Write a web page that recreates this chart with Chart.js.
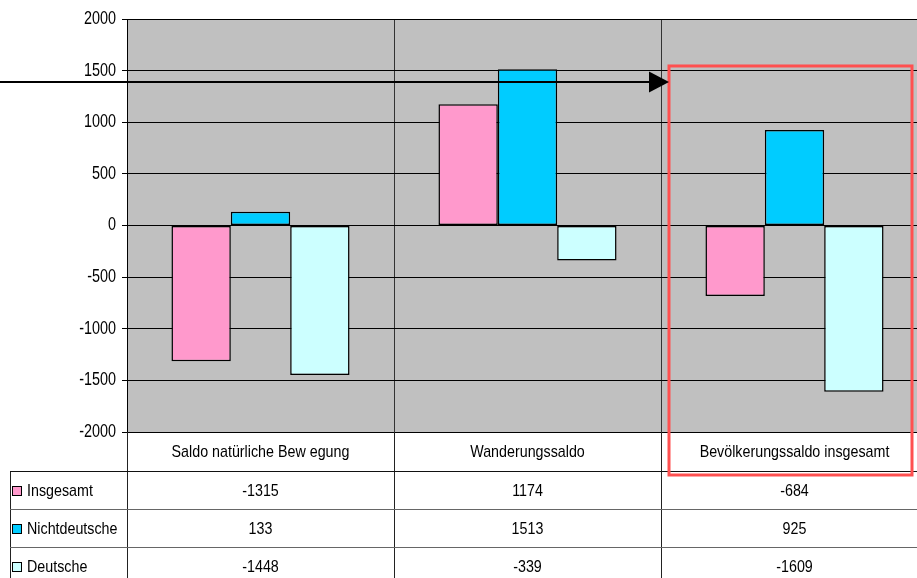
<!DOCTYPE html>
<html>
<head>
<meta charset="utf-8">
<script src="https://cdn.jsdelivr.net/npm/chart.js@4"></script>
<style>
  html, body { margin: 0; padding: 0; background: #fff; overflow: hidden; }
  #wrap { width: 917px; height: 578px; overflow: hidden; }
</style>
</head>
<body>
<div id="wrap"><canvas id="c" width="930" height="578"></canvas></div>
<script>
// Population balance by component and nationality
const categories = ['Saldo natürliche Bew egung', 'Wanderungssaldo', 'Bevölkerungssaldo insgesamt'];
const seriesNames = ['Insgesamt', 'Nichtdeutsche', 'Deutsche'];
const insgesamt = [-1315, 1174, -684];
const nichtdeutsche = [133, 1513, 925];
const deutsche = [-1448, -339, -1609];
const seriesColors = ['#ff99cc', '#00ccff', '#ccffff'];
const yMin = -2000, yMax = 2000, yStep = 500;
// value where the pointer arrow runs, and top of the highlight frame
const arrowValue = 1390;
const frameTopValue = 1545;

const FONT = '"Liberation Sans", Arial, sans-serif';
const seriesValues = [insgesamt, nichtdeutsche, deutsche];

// condensed text: normal font squeezed horizontally
function narrowText(ctx, text, x, y, align, size, squeeze) {
  ctx.save();
  ctx.font = size + 'px ' + FONT;
  ctx.textAlign = align;
  ctx.textBaseline = 'middle';
  ctx.translate(x, y);
  ctx.scale(squeeze, 1);
  ctx.fillText(text, 0, 0);
  ctx.restore();
}

const plotBg = {
  id: 'plotBg',
  beforeDraw(chart) {
    const { ctx, chartArea: a } = chart;
    ctx.save();
    ctx.fillStyle = '#c0c0c0';
    ctx.fillRect(a.left, a.top, a.right - a.left, a.bottom - a.top);
    ctx.restore();
  }
};

const dataTable = {
  id: 'dataTable',
  afterDraw(chart) {
    const { ctx, chartArea: a } = chart;
    const xs = chart.scales.x, ys = chart.scales.y;
    const n = categories.length;
    const catW = (xs.right - xs.left) / n;
    const headH = 39, rowH = 38;
    const headBottom = a.bottom + headH;
    const tableLeft = 10;
    const H = chart.height;
    ctx.save();
    // y tick labels
    ctx.fillStyle = '#000';
    ys.ticks.forEach(t => {
      narrowText(ctx, String(t.value), a.left - 11, ys.getPixelForValue(t.value), 'right', 18, 0.8);
    });
    ctx.lineWidth = 1;
    // vertical lines
    ctx.strokeStyle = '#222';
    for (let i = 0; i <= n; i++) {
      const x = Math.round(xs.left + i * catW) + 0.5;
      ctx.beginPath(); ctx.moveTo(x, a.bottom); ctx.lineTo(x, H); ctx.stroke();
    }
    ctx.beginPath(); ctx.moveTo(tableLeft + 0.5, headBottom); ctx.lineTo(tableLeft + 0.5, H); ctx.stroke();
    // horizontal lines
    ctx.strokeStyle = '#111';
    ctx.beginPath(); ctx.moveTo(tableLeft, Math.round(headBottom) + 0.5); ctx.lineTo(chart.width, Math.round(headBottom) + 0.5); ctx.stroke();
    ctx.strokeStyle = '#666';
    for (let r = 1; r < seriesNames.length; r++) {
      const y = Math.round(headBottom + r * rowH) + 0.5;
      ctx.beginPath(); ctx.moveTo(tableLeft, y); ctx.lineTo(chart.width, y); ctx.stroke();
    }
    // text
    ctx.fillStyle = '#000';
    categories.forEach((c, i) => {
      narrowText(ctx, c, xs.getPixelForValue(i), a.bottom + headH / 2 + 1, 'center', 17, 0.84);
    });
    seriesNames.forEach((name, r) => {
      const yc = headBottom + r * rowH + rowH / 2 + 1;
      seriesValues[r].forEach((v, i) => narrowText(ctx, String(v), xs.getPixelForValue(i), yc, 'center', 17, 0.84));
      // legend key
      const ky = Math.round(yc - 5) + 0.5;
      ctx.fillStyle = seriesColors[r];
      ctx.fillRect(12.5, ky, 9, 9);
      ctx.strokeStyle = '#000';
      ctx.strokeRect(12.5, ky, 9, 9);
      ctx.fillStyle = '#000';
      narrowText(ctx, name, 27, yc, 'left', 17, 0.84);
    });
    // highlight frame around the last category
    const fx0 = xs.left + (n - 1) * catW + 8;
    const fx1 = xs.right - 16;
    const fy0 = ys.getPixelForValue(frameTopValue);
    const fy1 = headBottom + 4;
    ctx.strokeStyle = '#ff5050';
    ctx.lineWidth = 3;
    ctx.strokeRect(fx0, fy0, fx1 - fx0, fy1 - fy0);
    // pointer arrow
    const ay = ys.getPixelForValue(arrowValue);
    ctx.strokeStyle = '#000';
    ctx.lineWidth = 2;
    ctx.beginPath(); ctx.moveTo(0, ay); ctx.lineTo(fx0 - 16, ay); ctx.stroke();
    ctx.fillStyle = '#000';
    ctx.beginPath();
    ctx.moveTo(fx0 - 20, ay - 10.5);
    ctx.lineTo(fx0, ay);
    ctx.lineTo(fx0 - 20, ay + 10.5);
    ctx.closePath(); ctx.fill();
    ctx.restore();
  }
};

new Chart(document.getElementById('c'), {
  type: 'bar',
  data: {
    labels: categories,
    datasets: seriesNames.map((name, i) => ({
      label: name,
      data: seriesValues[i],
      backgroundColor: seriesColors[i],
      borderColor: '#000',
      borderWidth: 1.5,
      borderSkipped: false
    }))
  },
  options: {
    responsive: false,
    animation: false,
    devicePixelRatio: 1,
    categoryPercentage: 0.667,
    barPercentage: 1,
    layout: { padding: { top: 19, bottom: 146, left: 0, right: 2 } },
    plugins: { legend: { display: false }, tooltip: { enabled: false } },
    scales: {
      x: {
        ticks: { display: false },
        grid: { offset: true, color: '#333', drawTicks: false, lineWidth: 1 },
        border: { color: '#000' }
      },
      y: {
        min: yMin, max: yMax,
        ticks: { stepSize: yStep, display: false },
        grid: { color: '#000', tickLength: 5, tickColor: '#000' },
        border: { color: '#000' },
        afterFit(s) { s.width = 127; }
      }
    }
  },
  plugins: [plotBg, dataTable]
});
</script>
</body>
</html>
